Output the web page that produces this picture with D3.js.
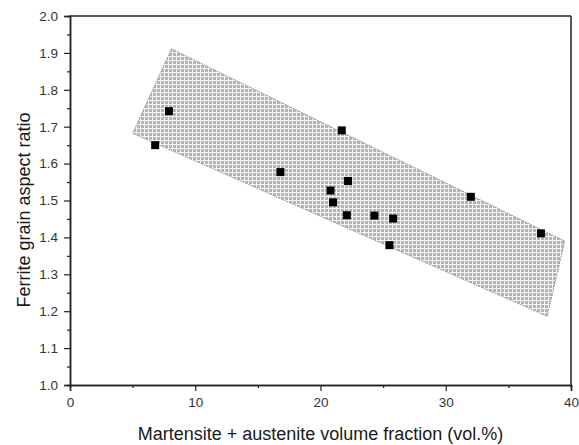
<!DOCTYPE html>
<html>
<head>
<meta charset="utf-8">
<script src="https://cdn.jsdelivr.net/npm/d3@7"></script>
<style>
  body { margin: 0; background: #fff; }
  #chart { width: 579px; height: 445px; }
  text { font-family: "Liberation Sans", Arial, sans-serif; }
</style>
</head>
<body>
<div id="chart"></div>
<script>
// measured points
var fraction = [7.9, 6.8, 21.7, 16.8, 22.2, 20.8, 21.0, 22.1, 24.3, 25.8, 25.5, 32.0, 37.6];
var aspect   = [1.742, 1.650, 1.690, 1.577, 1.553, 1.527, 1.495, 1.460, 1.459, 1.451, 1.379, 1.510, 1.411];

// shaded band corners
var bandX = [8.1, 5.0, 38.1, 39.5];
var bandY = [1.911, 1.682, 1.186, 1.390];

var xTicks = [0, 10, 20, 30, 40];
var yTicks = [1.0, 1.1, 1.2, 1.3, 1.4, 1.5, 1.6, 1.7, 1.8, 1.9, 2.0];

var width = 579, height = 445;
var margin = {left: 70, right: 8, top: 16, bottom: 60};

var svg = d3.select("#chart").append("svg")
            .attr("width", width)
            .attr("height", height);

var x = d3.scaleLinear()
          .domain([0, 40])
          .range([margin.left, width - margin.right]);

var y = d3.scaleLinear()
          .domain([1.0, 2.0])
          .range([height - margin.bottom, margin.top]);

// crosshatch fill
var pat = svg.append("defs").append("pattern")
    .attr("id", "hatch")
    .attr("patternUnits", "userSpaceOnUse")
    .attr("width", 4).attr("height", 4);
pat.append("rect").attr("width", 4).attr("height", 4).attr("fill", "#f4f4f4");
pat.append("rect").attr("x", 1).attr("y", 1).attr("width", 3).attr("height", 3).attr("fill", "#b4b4b4");

var band = bandX.map(function(d, i){ return [x(d), y(bandY[i])]; });
svg.append("path")
    .attr("d", d3.line()(band) + "Z")
    .attr("fill", "url(#hatch)")
    .attr("stroke", "#888")
    .attr("stroke-width", 0.8)
    .attr("stroke-dasharray", "2,1");

// points
svg.selectAll("rect.pt")
    .data(fraction)
    .enter().append("rect")
    .attr("class", "pt")
    .attr("x", function(d){ return x(d) - 4; })
    .attr("y", function(d, i){ return y(aspect[i]) - 4; })
    .attr("width", 8)
    .attr("height", 8)
    .attr("fill", "#000");

// frame
svg.append("line")
    .attr("x1", x(0)).attr("x2", x(40))
    .attr("y1", y(2)).attr("y2", y(2))
    .attr("stroke", "#222").attr("stroke-width", 1.5);
svg.append("line")
    .attr("x1", x(40)).attr("x2", x(40))
    .attr("y1", y(1)).attr("y2", y(2))
    .attr("stroke", "#222").attr("stroke-width", 1.5);

// minor ticks
var xa = svg.append("g")
    .attr("transform", "translate(0," + y(1) + ")");
xa.call(d3.axisBottom(x).tickValues(d3.range(5, 40, 10)).tickSize(3).tickFormat(""));
var xaMajor = svg.append("g")
    .attr("transform", "translate(0," + y(1) + ")")
    .call(d3.axisBottom(x).tickValues(xTicks).tickSize(6).tickPadding(6).tickFormat(d3.format("d")));

var ya = svg.append("g")
    .attr("transform", "translate(" + x(0) + ",0)");
ya.call(d3.axisLeft(y).tickValues(d3.range(1.05, 2.0, 0.1)).tickSize(3).tickFormat(""));
var yaMajor = svg.append("g")
    .attr("transform", "translate(" + x(0) + ",0)")
    .call(d3.axisLeft(y).tickValues(yTicks).tickSize(6).tickPadding(6).tickFormat(d3.format(".1f")));

svg.selectAll(".domain").attr("stroke", "#222").attr("stroke-width", 1.5);
svg.selectAll(".tick line").attr("stroke", "#222").attr("stroke-width", 1.2);
svg.selectAll(".tick text")
    .attr("font-family", "Liberation Sans, Arial, sans-serif")
    .attr("font-size", 13.5)
    .attr("fill", "#333");

// titles
svg.append("text")
    .attr("x", (x(0) + x(40)) / 2)
    .attr("y", 440)
    .attr("text-anchor", "middle")
    .attr("font-size", 18)
    .attr("fill", "#1a1a1a")
    .text("Martensite + austenite volume fraction (vol.%)");

svg.append("text")
    .attr("transform", "translate(30," + 210 + ") rotate(-90)")
    .attr("text-anchor", "middle")
    .attr("font-size", 18)
    .attr("fill", "#1a1a1a")
    .text("Ferrite grain aspect ratio");
</script>
</body>
</html>
